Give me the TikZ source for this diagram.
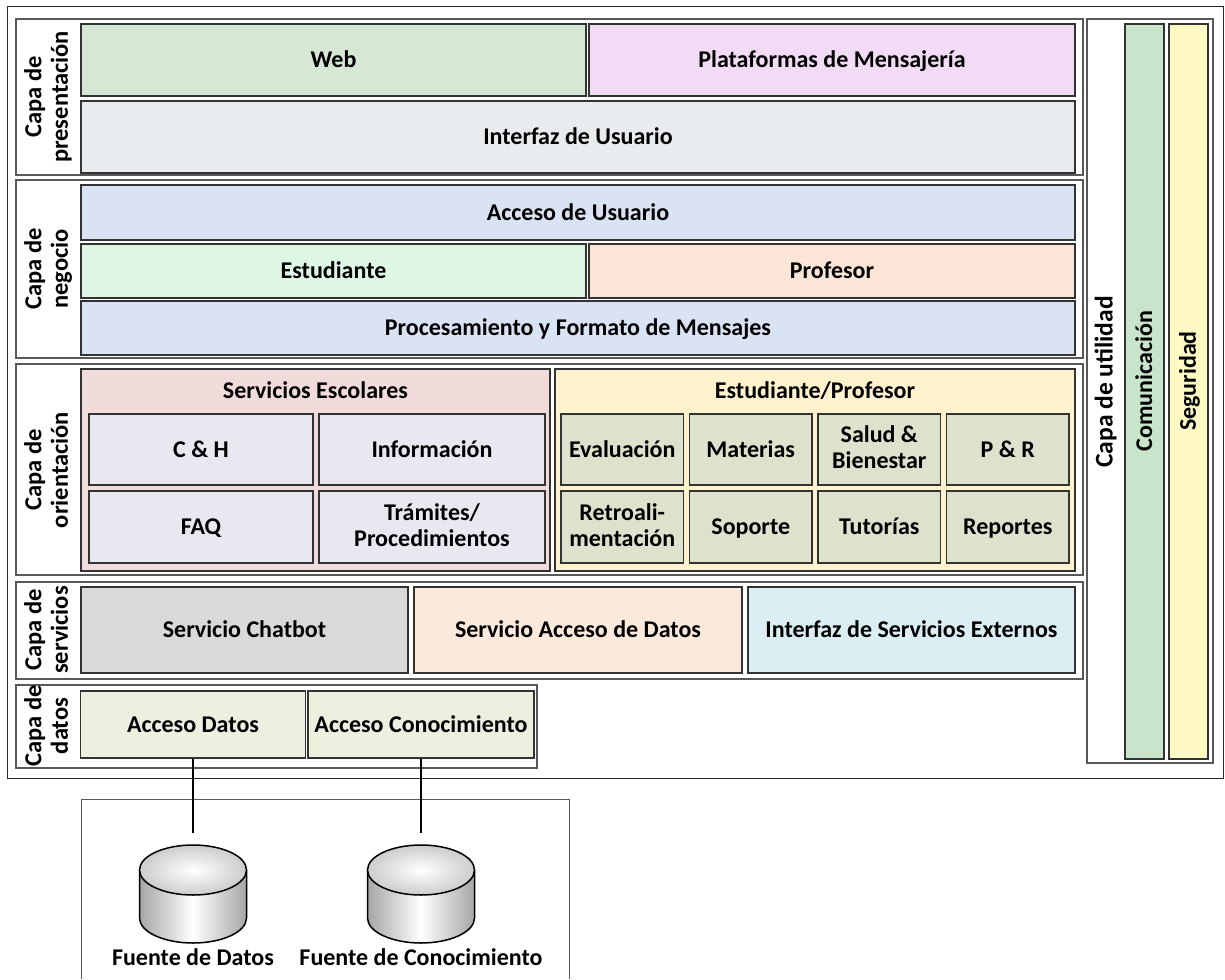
\documentclass[tikz,border=0pt]{standalone}
\usepackage{fontspec}
\setmainfont{Carlito}
\newcommand{\pTop}{\rule{0pt}{19pt}}
\newcommand{\pBot}{\rule[-4pt]{0pt}{4pt}}
\definecolor{webfill}{RGB}{213,232,212}
\definecolor{platfill}{RGB}{242,220,245}
\definecolor{iufill}{RGB}{232,236,239}
\definecolor{accfill}{RGB}{218,227,243}
\definecolor{estfill}{RGB}{221,247,228}
\definecolor{proffill}{RGB}{251,229,214}
\definecolor{sefill}{RGB}{242,220,219}
\definecolor{sesub}{RGB}{233,231,240}
\definecolor{epfill}{RGB}{255,242,204}
\definecolor{epsub}{RGB}{221,226,204}
\definecolor{chatfill}{RGB}{217,217,217}
\definecolor{acdfill}{RGB}{251,233,219}
\definecolor{isefill}{RGB}{218,238,243}
\definecolor{datfill}{RGB}{235,241,222}
\definecolor{comfill}{RGB}{200,228,202}
\definecolor{segfill}{RGB}{255,249,196}
\begin{document}
\begin{tikzpicture}[x=1pt,y=-1pt,
  every node/.style={font=\fontsize{24}{26}\selectfont\bfseries, align=center, inner sep=0pt,
    execute at begin node=\pTop, execute at end node=\pBot},
  capafr/.style={draw=black!65, line width=1.6pt},
  capalbl/.style={rotate=90, font=\fontsize{24.5}{26.5}\selectfont\bfseries},
  cbox/.style={draw=black!80, line width=1.3pt},
  conn/.style={line width=1.6pt}]
\useasboundingbox (0,0) rectangle (1225,979);
\node[draw=black!85, line width=1pt, minimum width=1216pt, minimum height=771pt] (outer) at (615,392.5) {};
\node[capafr, minimum width=1067pt, minimum height=156pt] (pres) at (549.5,97) {};
\node[capafr, minimum width=1067pt, minimum height=178pt] (neg) at (549.5,269) {};
\node[capafr, minimum width=1067pt, minimum height=211pt] (ori) at (549.5,469.5) {};
\node[capafr, minimum width=1067pt, minimum height=97pt] (serv) at (549.5,630.5) {};
\node[capafr, minimum width=521pt, minimum height=83pt] (dat) at (276.5,726.5) {};
\node[capafr, minimum width=126pt, minimum height=744pt] (util) at (1150,391) {};
\node[capalbl] (prestxt) at (48,97) {Capa de\\presentación};
\node[capalbl] (negtxt) at (48,269) {Capa de\\negocio};
\node[capalbl] (oritxt) at (48,470) {Capa de\\orientación};
\node[capalbl] (servtxt) at (48,630) {Capa de\\servicios};
\node[capalbl] (dattxt) at (48,726) {Capa de\\datos};
\node[cbox, fill=webfill, minimum width=505pt, minimum height=72pt] (web) at (333.5,60) {Web};
\node[cbox, fill=platfill, minimum width=486pt, minimum height=72pt] (plat) at (832,60) {Plataformas de Mensajería};
\node[cbox, fill=iufill, minimum width=994pt, minimum height=72pt] (iu) at (578,137) {Interfaz de Usuario};
\node[cbox, fill=accfill, minimum width=994pt, minimum height=55pt] (acc) at (578,212.5) {Acceso de Usuario};
\node[cbox, fill=estfill, minimum width=505pt, minimum height=54pt] (est) at (333.5,271) {Estudiante};
\node[cbox, fill=proffill, minimum width=486pt, minimum height=54pt] (prof) at (832,271) {Profesor};
\node[cbox, fill=accfill, minimum width=994pt, minimum height=54pt] (proc) at (578,328) {Procesamiento y Formato de Mensajes};
\node[cbox, fill=sefill, minimum width=469pt, minimum height=202pt] (se) at (315.5,470) {};
\node (setxt) at (315.5,391) {Servicios Escolares};
\node[cbox, fill=sesub, minimum width=224pt, minimum height=71pt] (ch) at (201,449.5) {C \& H};
\node[cbox, fill=sesub, minimum width=226pt, minimum height=71pt] (info) at (432,449.5) {Información};
\node[cbox, fill=sesub, minimum width=224pt, minimum height=72pt] (faq) at (201,527) {FAQ};
\node[cbox, fill=sesub, minimum width=226pt, minimum height=72pt] (tram) at (432,527) {Trámites/\\Procedimientos};
\node[cbox, fill=epfill, minimum width=520pt, minimum height=202pt] (ep) at (815,470) {};
\node (eptxt) at (815,391) {Estudiante/Profesor};
\node[cbox, fill=epsub, minimum width=122.5pt, minimum height=71pt] (eval) at (622.25,449.5) {Evaluación};
\node[cbox, fill=epsub, minimum width=122.5pt, minimum height=71pt] (mat) at (750.75,449.5) {Materias};
\node[cbox, fill=epsub, minimum width=122.5pt, minimum height=71pt] (salud) at (879.25,449.5) {Salud \&\\Bienestar};
\node[cbox, fill=epsub, minimum width=122.5pt, minimum height=71pt] (pr) at (1007.75,449.5) {P \& R};
\node[cbox, fill=epsub, minimum width=122.5pt, minimum height=72pt] (retro) at (622.25,527) {Retroali-\\mentación};
\node[cbox, fill=epsub, minimum width=122.5pt, minimum height=72pt] (sop) at (750.75,527) {Soporte};
\node[cbox, fill=epsub, minimum width=122.5pt, minimum height=72pt] (tut) at (879.25,527) {Tutorías};
\node[cbox, fill=epsub, minimum width=122.5pt, minimum height=72pt] (rep) at (1007.75,527) {Reportes};
\node[cbox, fill=chatfill, minimum width=327pt, minimum height=86pt] (chat) at (244.5,630) {Servicio Chatbot};
\node[cbox, fill=acdfill, minimum width=328pt, minimum height=86pt] (acd) at (578,630) {Servicio Acceso de Datos};
\node[cbox, fill=isefill, minimum width=327pt, minimum height=86pt] (ise) at (911.5,630) {Interfaz de Servicios Externos};
\node[cbox, fill=datfill, minimum width=225pt, minimum height=67pt] (ad) at (193,724.5) {Acceso Datos};
\node[cbox, fill=datfill, minimum width=226pt, minimum height=67pt] (ac) at (421,724.5) {Acceso Conocimiento};
\node[capalbl, font=\fontsize{25.5}{27}\selectfont\bfseries] (utiltxt) at (1105,382) {Capa de utilidad};
\node[cbox, fill=comfill, minimum width=39pt, minimum height=735pt] (com) at (1144.5,391.5) {};
\node[cbox, fill=segfill, minimum width=39pt, minimum height=735pt] (seg) at (1188.5,391.5) {};
\node[rotate=90] (comtxt) at (1144.5,381) {Comunicación};
\node[rotate=90] (segtxt) at (1188.5,381) {Seguridad};
\draw[draw=black!65, line width=1pt] (81,979) -- (81,799) -- (569,799) -- (569,979);
\foreach \cx/\nm in {193/fd, 421/fc} {
  \fill[left color=black!35, right color=black!35, middle color=white]
    (\cx-53.5,870) -- (\cx-53.5,918) arc[start angle=180, end angle=0, x radius=53.5, y radius=25] -- (\cx+53.5,870) -- cycle;
  \draw[line width=1.5pt] (\cx-53.5,870) -- (\cx-53.5,918) arc[start angle=180, end angle=0, x radius=53.5, y radius=25] -- (\cx+53.5,870);
  \draw[line width=1.5pt, inner color=white, outer color=black!20] (\cx,870) ellipse[x radius=53.5, y radius=25];
  \coordinate (\nm) at (\cx,833);
}
\node (fdtxt) at (193,958) {Fuente de Datos};
\node (fctxt) at (421,958) {Fuente de Conocimiento};
\draw[conn] (ad.south) -- (fd);
\draw[conn] (ac.south) -- (fc);
\end{tikzpicture}
\end{document}
